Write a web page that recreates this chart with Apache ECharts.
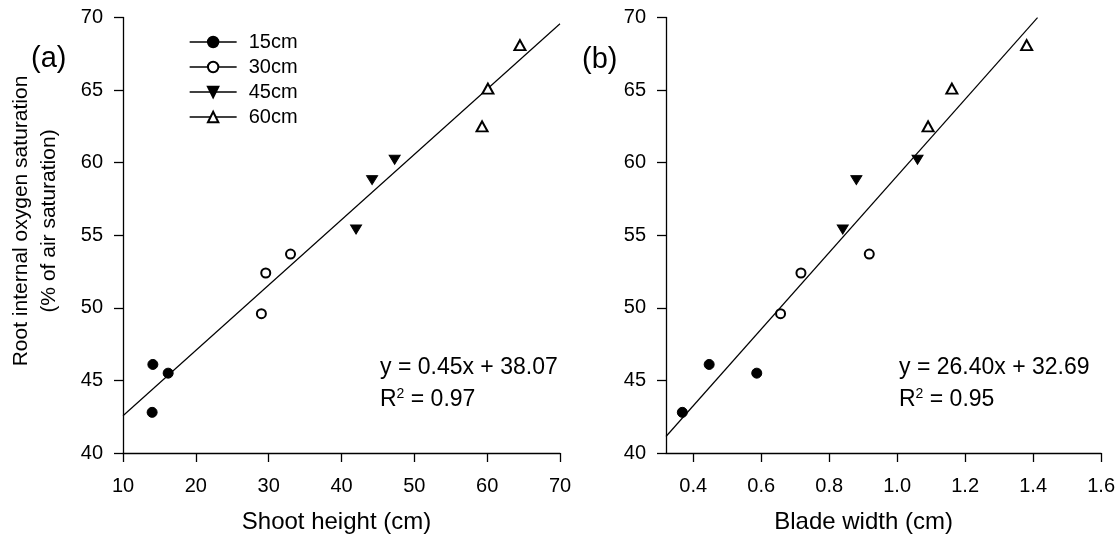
<!DOCTYPE html>
<html>
<head>
<meta charset="utf-8">
<script src="https://cdn.jsdelivr.net/npm/echarts@6/dist/echarts.min.js"></script>
<style>
  html, body { margin: 0; padding: 0; background: #fff; }
  #main { width: 1118px; height: 539px; }
</style>
</head>
<body>
<div id="main"></div>
<script>
// group names (water depth)
const groups = ['15cm', '30cm', '45cm', '60cm']

// panel (a): shoot height (cm) vs root O2 saturation (%)
const heightA = {
  '15cm': [[14.1, 46.1], [16.2, 45.5], [14.0, 42.8]],
  '30cm': [[29.6, 52.4], [33.0, 53.7], [29.0, 49.6]],
  '45cm': [[42.0, 55.4], [44.2, 58.8], [47.3, 60.2]],
  '60cm': [[64.5, 68.1], [60.1, 65.1], [59.3, 62.5]]
}
// panel (b): blade width (cm) vs root O2 saturation (%)
const widthB = {
  '15cm': [[0.368, 42.8], [0.447, 46.1], [0.587, 45.5]],
  '30cm': [[0.657, 49.6], [0.717, 52.4], [0.918, 53.7]],
  '45cm': [[0.840, 55.4], [0.880, 58.8], [1.060, 60.2]],
  '60cm': [[1.091, 62.5], [1.161, 65.1], [1.381, 68.1]]
}

// regression lines (from the printed equations)
const fitA = { slope: 0.45, intercept: 38.07, from: 10, to: 70 }
const fitB = { slope: 26.40, intercept: 32.69, from: 0.32, to: 1.413 }

const xTicksB = [0.4, 0.6, 0.8, 1.0, 1.2, 1.4, 1.6]

const markers = {
  '15cm': { symbol: 'circle', symbolSize: 10, rotate: 0 },
  '30cm': { symbol: 'emptyCircle', symbolSize: 9, rotate: 0 },
  '45cm': { symbol: 'triangle', symbolSize: [11, 9], rotate: 180 },
  '60cm': { symbol: 'emptyTriangle', symbolSize: [11, 10], rotate: 0 }
}

const FONT = 'Liberation Sans, Arial, sans-serif'

function fitLine(f) {
  return [[f.from, f.slope * f.from + f.intercept], [f.to, f.slope * f.to + f.intercept]]
}

function groupSeries(data, idx) {
  return groups.map(g => ({
    name: g,
    type: 'line',
    xAxisIndex: idx,
    yAxisIndex: idx,
    data: data[g],
    symbol: markers[g].symbol,
    symbolSize: markers[g].symbolSize,
    symbolRotate: markers[g].rotate,
    showAllSymbol: true,
    lineStyle: { width: 0, opacity: 0 },
    itemStyle: { color: '#000', borderColor: '#000', borderWidth: 1 },
    emphasis: { disabled: true },
    z: 3
  }))
}

function xAxisCommon(idx, name, shift) {
  return {
    gridIndex: idx,
    type: 'value',
    name: name,
    nameLocation: 'middle',
    nameGap: 57,
    nameTextStyle: { fontFamily: FONT, fontSize: 24, color: '#000', padding: [0, shift * 2, 0, 0] },
    splitLine: { show: false },
    axisLine: { onZero: false, lineStyle: { color: '#000', width: 1.3 } },
    axisTick: { length: 9, lineStyle: { color: '#000', width: 1.3 } },
    axisLabel: { fontFamily: FONT, fontSize: 20, color: '#000', margin: 23 }
  }
}

function yAxisCommon(idx) {
  return {
    gridIndex: idx,
    type: 'value',
    min: 40,
    max: 70,
    interval: 5,
    splitLine: { show: false },
    axisLine: { show: true, onZero: false, lineStyle: { color: '#000', width: 1.3 } },
    axisTick: { show: true, length: 9, lineStyle: { color: '#000', width: 1.3 } },
    axisLabel: { fontFamily: FONT, fontSize: 20, color: '#000', margin: 20 }
  }
}

const xA = Object.assign(xAxisCommon(0, 'Shoot height (cm)', 5), { min: 10, max: 70, interval: 10 })
const xB = xAxisCommon(1, 'Blade width (cm)', 20)
xB.min = 0.32
xB.max = 1.6
xB.axisTick.customValues = xTicksB
xB.axisLabel.customValues = xTicksB
xB.axisLabel.formatter = v => v.toFixed(1)

const eqFont = '23px ' + FONT
const supStyle = { sup: { fontSize: 14, fontFamily: FONT, verticalAlign: 'top', lineHeight: 14 } }

const option = {
  animation: false,
  backgroundColor: '#fff',
  grid: [
    { left: 123, top: 17.5, width: 437, height: 437.5 },
    { left: 666, top: 17.5, width: 437.3, height: 437.5 }
  ],
  legend: {
    data: groups,
    orient: 'vertical',
    left: 184,
    top: 27,
    itemWidth: 47,
    itemHeight: 13,
    itemGap: 5,
    selectedMode: false,
    lineStyle: { color: '#000', width: 1.3, opacity: 1 },
    textStyle: { fontFamily: FONT, fontSize: 20, color: '#000', padding: [0, 0, 0, 7] }
  },
  xAxis: [xA, xB],
  yAxis: [yAxisCommon(0), yAxisCommon(1)],
  series: [
    ...groupSeries(heightA, 0),
    ...groupSeries(widthB, 1),
    {
      type: 'line', xAxisIndex: 0, yAxisIndex: 0, data: fitLine(fitA),
      symbol: 'none', lineStyle: { color: '#000', width: 1.2 }, emphasis: { disabled: true }, z: 2
    },
    {
      type: 'line', xAxisIndex: 1, yAxisIndex: 1, data: fitLine(fitB),
      symbol: 'none', lineStyle: { color: '#000', width: 1.2 }, emphasis: { disabled: true }, z: 2
    }
  ],
  graphic: [
    { type: 'text', left: 31, top: 44, style: { text: '(a)', font: '29px ' + FONT, fill: '#000' } },
    { type: 'text', left: 582, top: 45, style: { text: '(b)', font: '29px ' + FONT, fill: '#000' } },
    {
      type: 'text', x: 35, y: 221, rotation: Math.PI / 2,
      style: {
        text: 'Root internal oxygen saturation\n(% of air saturation)',
        font: '21px ' + FONT, fill: '#000', align: 'center', verticalAlign: 'middle', lineHeight: 28
      }
    },
    // equations
    { type: 'text', x: 380, y: 368, style: { text: 'y = 0.45x + 38.07', font: eqFont, fill: '#000', verticalAlign: 'middle' } },
    {
      type: 'text', x: 380, y: 400,
      style: { text: 'R{sup|2} = 0.97', font: eqFont, fill: '#000', verticalAlign: 'middle', lineHeight: 26, rich: supStyle }
    },
    { type: 'text', x: 899, y: 368, style: { text: 'y = 26.40x + 32.69', font: eqFont, fill: '#000', verticalAlign: 'middle' } },
    {
      type: 'text', x: 899, y: 400,
      style: { text: 'R{sup|2} = 0.95', font: eqFont, fill: '#000', verticalAlign: 'middle', lineHeight: 26, rich: supStyle }
    }
  ]
}

const chart = echarts.init(document.getElementById('main'))
chart.setOption(option)
</script>
</body>
</html>
